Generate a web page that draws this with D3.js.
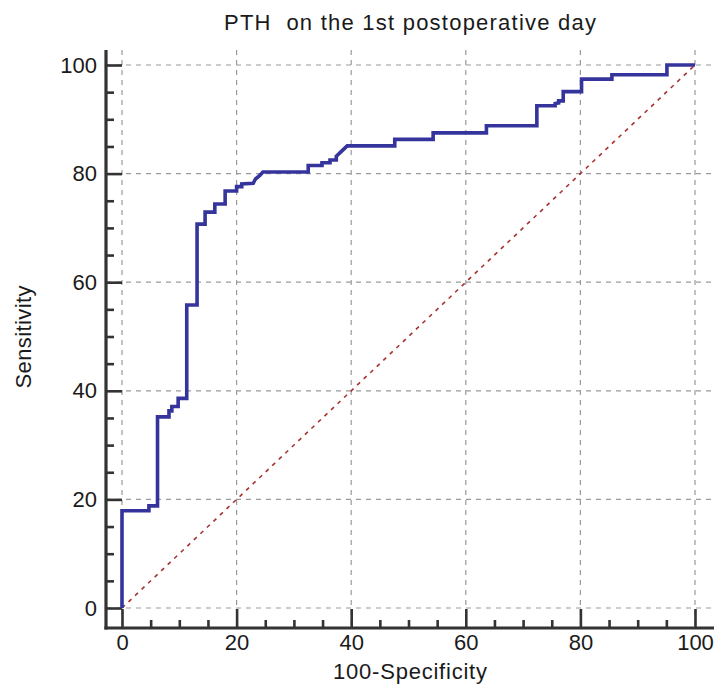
<!DOCTYPE html>
<html><head><meta charset="utf-8">
<script src="https://cdn.jsdelivr.net/npm/d3@7"></script>
<style>body{margin:0;background:#fff}svg{display:block}text{font-family:"Liberation Sans",Arial,sans-serif;fill:#1a1a1a}</style>
</head><body><svg id="c" width="719" height="685"></svg>
<script>
const title = "PTH  on the 1st postoperative day";
const xLabel = "100-Specificity";
const yLabel = "Sensitivity";
const majorTicks = [0, 20, 40, 60, 80, 100];
const minorTicks = [5,10,15,25,30,35,45,50,55,65,70,75,85,90,95];
// ROC curve vertices (100-Specificity, Sensitivity)
const fpr = [0,0,4.7,4.7,6.2,6.2,8.2,8.2,8.7,8.7,9.8,9.8,11.3,11.3,13.1,13.1,14.5,14.5,16.2,16.2,18.0,18.0,20.0,20.0,20.9,20.9,22.9,23.3,24.0,24.6,32.5,32.5,34.9,34.9,36.3,36.3,37.4,37.4,38.2,39.3,47.6,47.6,54.3,54.3,63.6,63.6,72.4,72.4,75.6,75.6,76.2,76.2,77.0,77.0,80.2,80.2,85.5,85.5,95.1,95.1,100];
const tpr = [0,17.9,17.9,18.8,18.8,35.2,35.2,36.3,36.3,37.1,37.1,38.6,38.6,55.8,55.8,70.7,70.7,72.9,72.9,74.4,74.4,76.8,76.8,77.6,77.6,78.1,78.2,79.0,79.6,80.3,80.3,81.5,81.5,82.0,82.0,82.5,82.5,83.2,84.0,85.1,85.1,86.3,86.3,87.5,87.5,88.8,88.8,92.5,92.5,92.9,93.0,93.4,93.4,95.1,95.1,97.4,97.4,98.2,98.2,100,100];
const diag = [[0,0],[100,100]];

const svg = d3.select("#c");
const x = d3.scaleLinear().domain([0,100]).range([122,695]);
const y = d3.scaleLinear().domain([0,100]).range([608,65]);
const axX = 106, axY = 628, plotTop = 50, plotRight = 714;

// grid
const g = svg.append("g").attr("stroke","#9a9a9a").attr("stroke-width",1.2).attr("stroke-dasharray","5,5");
g.selectAll(".vg").data(majorTicks).join("line")
  .attr("x1",d=>x(d)).attr("x2",d=>x(d)).attr("y1",plotTop).attr("y2",axY);
g.selectAll(".hg").data(majorTicks).join("line")
  .attr("y1",d=>y(d)).attr("y2",d=>y(d)).attr("x1",axX).attr("x2",plotRight);

// axes
const yAx = svg.append("g").attr("transform",`translate(${axX},0)`)
  .call(d3.axisLeft(y).tickValues(majorTicks).tickSizeInner(-16).tickSizeOuter(0).tickPadding(9));
const yMin = svg.append("g").attr("transform",`translate(${axX},0)`)
  .call(d3.axisLeft(y).tickValues(minorTicks).tickSizeInner(-8).tickSizeOuter(0).tickFormat(""));
const xAx = svg.append("g").attr("transform",`translate(0,${axY})`)
  .call(d3.axisBottom(x).tickValues(majorTicks).tickSizeInner(-19).tickSizeOuter(0).tickPadding(6));
const xMin = svg.append("g").attr("transform",`translate(0,${axY})`)
  .call(d3.axisBottom(x).tickValues(minorTicks).tickSizeInner(-8).tickSizeOuter(0).tickFormat(""));
[yAx,yMin,xAx,xMin].forEach(a=>{a.select(".domain").remove();
  a.selectAll(".tick line").attr("stroke","#333").attr("stroke-width",2.6);
  a.selectAll(".tick text").attr("font-size",22).attr("fill","#1a1a1a").style("font-family","'Liberation Sans',Arial,sans-serif");});
svg.append("line").attr("x1",axX).attr("x2",axX).attr("y1",plotTop).attr("y2",axY+1.5).attr("stroke","#333").attr("stroke-width",3.2);
svg.append("line").attr("x1",axX-1.6).attr("x2",plotRight).attr("y1",axY).attr("y2",axY).attr("stroke","#333").attr("stroke-width",3.2);

// diagonal
svg.append("path").datum(diag).attr("fill","none").attr("stroke","#a83232").attr("stroke-width",1.6)
  .attr("stroke-dasharray","4,5").attr("d",d3.line().x(d=>x(d[0])).y(d=>y(d[1])));

// ROC curve
const pts = fpr.map((v,i)=>[v,tpr[i]]);
svg.append("path").datum(pts).attr("fill","none").attr("stroke","#34349c").attr("stroke-width",3.6)
  .attr("stroke-linejoin","miter").attr("d",d3.line().x(d=>x(d[0])).y(d=>y(d[1])));

// titles
svg.append("text").attr("x",410).attr("y",30).attr("text-anchor","middle").attr("font-size",22)
  .attr("textLength",372).attr("lengthAdjust","spacing").style("white-space","pre").text(title);
svg.append("text").attr("x",410).attr("y",679).attr("text-anchor","middle").attr("font-size",22)
  .attr("textLength",154).attr("lengthAdjust","spacing").text(xLabel);
svg.append("text").attr("transform","translate(31,337) rotate(-90)").attr("text-anchor","middle").attr("font-size",22)
  .attr("textLength",103).attr("lengthAdjust","spacing").text(yLabel);
</script></body></html>
